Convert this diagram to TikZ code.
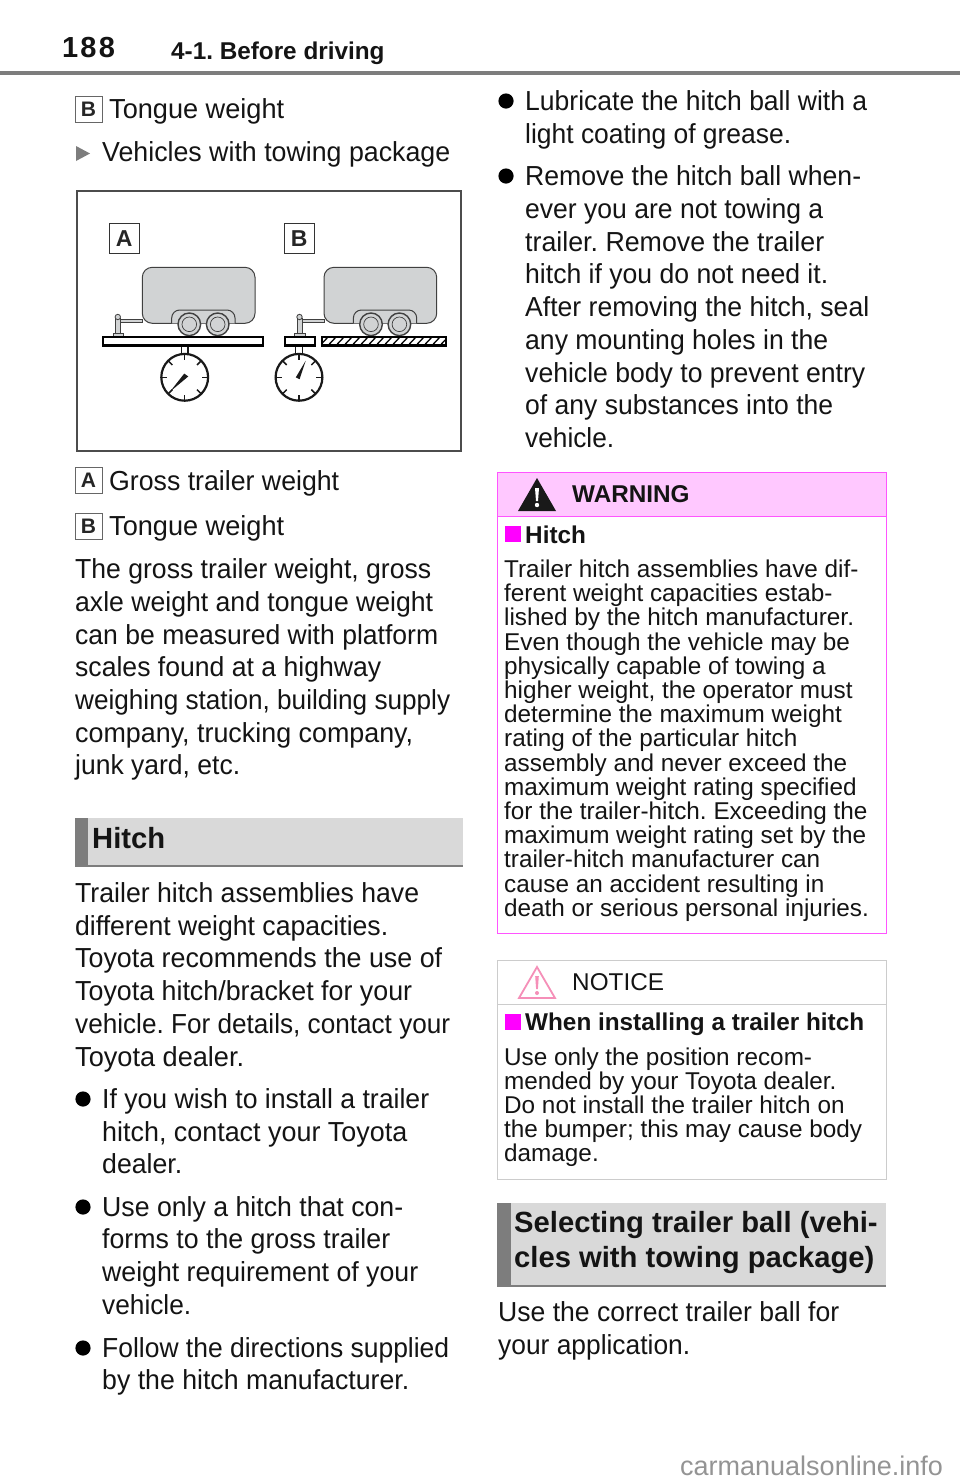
\documentclass[tikz,border=0pt]{standalone}
\usepackage{fontspec}
\usepackage{graphicx}
\setmainfont{Liberation Sans}
\frenchspacing
\definecolor{band}{HTML}{D9D9D9}
\definecolor{barc}{HTML}{7D7D7D}
\definecolor{warnbg}{HTML}{FFC8FF}
\definecolor{warnln}{HTML}{FF55FF}
\definecolor{notln}{HTML}{CCCCCC}
\definecolor{trail}{HTML}{D1D3D4}
\definecolor{pinkt}{HTML}{F58FB8}
\definecolor{puremag}{RGB}{255,0,255}
\newcommand{\fbody}{\fontsize{27.5}{32}\selectfont}
\newcommand{\fsmall}{\fontsize{24.3}{28}\selectfont}
\newcommand{\fhead}{\fontsize{29.2}{34}\selectfont\bfseries}
% \tbody{name}{x}{baseline}{right edge}{text}: the line is fitted to the printed width
\newcommand{\tbody}[5]{%
  \node[txt,font=\fbody] (#1) at (#2,#3) {\resizebox{\dimexpr #4pt-#2pt\relax}{\height}{#5}};}
\newcommand{\tsmall}[4]{\node[txt,font=\fsmall] (#1) at (#2,#3) {#4};}
\newcommand{\tbold}[4]{\node[txt,font=\fsmall\bfseries] (#1) at (#2,#3) {#4};}
\newcommand{\thead}[4]{\node[txt,font=\fhead] (#1) at (#2,#3) {#4};}
\newcommand{\dotb}[2]{\fill[black] (#1,#2) circle (7.6);}
\newcommand{\lab}[4]{\draw[draw=black!60,line width=1pt,fill=white] (#1,#2) rectangle ++(27,26);
  \node[font=\fontsize{21}{23}\selectfont\bfseries,inner sep=0pt,text=black!85] (#3) at (#1+13.5,#2+13) {#4};}
\newcommand{\biglab}[4]{\draw[draw=black!80,line width=1.2pt,fill=white] (#1,#2) rectangle ++(30,30);
  \node[font=\fontsize{23}{25}\selectfont\bfseries,inner sep=0pt,text=black!85] (#3) at (#1+15,#2+15) {#4};}
\newcommand{\trailer}[1]{
  \begin{scope}[xshift=#1pt,draw=black!75,line width=1pt]
    \draw[fill=trail,rounded corners=10pt] (0,323.3) -- (0,267.3) -- (112.7,267.3) -- (112.7,323.3) -- cycle;
    \draw[fill=trail,rounded corners=8pt] (29.4,323.3) -- (29.4,310) -- (92.7,310) -- (92.7,323.3);
    \foreach \wx in {47,75.4}{
      \draw[fill=trail,line width=1.4pt] (\wx,324.3) circle (11.3);
      \draw[line width=.7pt] (\wx,324.3) circle (7.3);
    }
    \draw[fill=trail,line width=.8pt] (-22,319.6) rectangle (0,322.6);
    \draw[fill=trail,line width=.8pt] (-27,318) rectangle (-22,333.5);
    \draw[fill=trail,line width=.8pt] (-24.5,317) circle (2.7);
    \draw[fill=trail,line width=.8pt] (-29.3,333.5) rectangle (-18.7,336.5);
  \end{scope}}
\newcommand{\gauge}[1]{
  \begin{scope}[xshift=#1pt,line width=2.2pt,draw=black!90]
    \draw[fill=white,line width=1.5pt] (-3.3,345.7) rectangle (3.3,355);
    \draw[fill=white] (0,377.3) circle (23.4);
    \foreach \ang in {0,45,...,315}{
      \draw[line width=1.5pt] (0,377.3) ++(\ang:23.4) -- ++(\ang+180:6);
    }
  \end{scope}}
\begin{document}
\begin{tikzpicture}[x=1pt,y=-1pt,
  txt/.style={anchor=base west,inner sep=0pt,text=black!92}]
\useasboundingbox (0,0) rectangle (960,1484);
\fill[white] (0,0) rectangle (960,1484);
\node[txt,font=\fontsize{29}{32}\selectfont\bfseries] (pageno) at (62,57) {1\kern2.2pt8\kern2.2pt8};
\node[txt,font=\fsmall\bfseries] (chapter) at (171,59) {4-1. Before driving};
\fill[barc] (0,71) rectangle (960,75);
\lab{75}{96}{lb1}{B}
\tbody{t1}{109}{118}{284}{Tongue weight}
\fill[barc] (76,146) -- (90,153.5) -- (76,161) -- cycle;
\tbody{t2}{102}{161}{450}{Vehicles with towing package}
\draw[draw=black!70,line width=1.3pt] (77,191) rectangle (461,451);
\biglab{109.3}{223.3}{figA}{A}
\biglab{284.3}{223.3}{figB}{B}
\trailer{142.3}
\trailer{324}
\gauge{184.7}
\gauge{299}
\draw[line width=2.2pt,fill=white] (103.3,337) rectangle (263.3,345.5);
\draw[line width=2.2pt,fill=white] (285,337) rectangle (315,345.5);
\draw[fill=white,draw=none] (321.7,337) rectangle (446,345.5);
\begin{scope}
  \clip (321.7,337) rectangle (446,345.5);
  \foreach \hx in {320,328,...,456}{\draw[line width=1.3pt] (\hx,345.5) -- (\hx+8,337);}
\end{scope}
\draw[line width=2.2pt] (321.7,337) rectangle (446,345.5);
\fill[black!90] (184.2,373.6) -- (188.3,376.4) -- (170,391.7) -- cycle;
\fill[black!90] (295.8,377.4) -- (299.6,379.2) -- (305.7,360.7) -- cycle;
\lab{75}{467}{lb2}{A}
\tbody{t3}{109}{490}{339}{Gross trailer weight}
\lab{75}{513}{lb3}{B}
\tbody{t4}{109}{535}{284}{Tongue weight}
\tbody{p1}{75}{578}{431}{The gross trailer weight, gross}
\tbody{p2}{75}{611}{433}{axle weight and tongue weight}
\tbody{p3}{75}{644}{438}{can be measured with platform}
\tbody{p4}{75}{676}{381}{scales found at a highway}
\tbody{p5}{75}{709}{450}{weighing station, building supply}
\tbody{p6}{75}{742}{413}{company, trucking company,}
\tbody{p7}{75}{774}{240}{junk yard, etc.}
\fill[band] (75,818) rectangle (463,867);
\fill[barc] (75,818) rectangle (88,867);
\fill[barc] (75,865) rectangle (463,867);
\thead{h1}{92}{848}{Hitch}
\tbody{q1}{75}{902}{419}{Trailer hitch assemblies have}
\tbody{q2}{75}{935}{388}{different weight capacities.}
\tbody{q3}{75}{967}{442}{Toyota recommends the use of}
\tbody{q4}{75}{1000}{412}{Toyota hitch/bracket for your}
\tbody{q5}{75}{1033}{450}{vehicle. For details, contact your}
\tbody{q6}{75}{1066}{244}{Toyota dealer.}
\dotb{83}{1099}
\tbody{b1}{102}{1108}{429}{If you wish to install a trailer}
\tbody{b2}{102}{1141}{407}{hitch, contact your Toyota}
\tbody{b3}{102}{1173}{182}{dealer.}
\dotb{83}{1207}
\tbody{b4}{102}{1216}{403}{Use only a hitch that con-}
\tbody{b5}{102}{1248}{390}{forms to the gross trailer}
\tbody{b6}{102}{1281}{418}{weight requirement of your}
\tbody{b7}{102}{1314}{191}{vehicle.}
\dotb{83}{1348}
\tbody{b8}{102}{1357}{449}{Follow the directions supplied}
\tbody{b9}{102}{1389}{409}{by the hitch manufacturer.}
\dotb{506}{101}
\tbody{r1}{525}{110}{867}{Lubricate the hitch ball with a}
\tbody{r2}{525}{143}{791}{light coating of grease.}
\dotb{506}{176}
\tbody{r3}{525}{185}{861}{Remove the hitch ball when-}
\tbody{r4}{525}{218}{823}{ever you are not towing a}
\tbody{r5}{525}{251}{824}{trailer. Remove the trailer}
\tbody{r6}{525}{283}{828}{hitch if you do not need it.}
\tbody{r7}{525}{316}{869}{After removing the hitch, seal}
\tbody{r8}{525}{349}{828}{any mounting holes in the}
\tbody{r9}{525}{382}{865}{vehicle body to prevent entry}
\tbody{r10}{525}{414}{833}{of any substances into the}
\tbody{r11}{525}{447}{614}{vehicle.}
\fill[warnbg] (497,472) rectangle (886,516);
\draw[warnln,line width=1pt] (497,472) rectangle (886,933);
\draw[warnln,line width=1pt] (497,516) -- (886,516);
\fill[black!90] (537,478) -- (556,511) -- (518,511) -- cycle;
\fill[white] (535,488) -- (539,488) -- (538,501) -- (536,501) -- cycle;
\fill[white] (537,505) circle (2.2);
\tbold{wt}{572}{502}{WARNING}
\fill[puremag] (505,526) rectangle (521,542);
\tbold{wh}{525}{543}{Hitch}
\tsmall{w1}{504}{577}{Trailer hitch assemblies have dif-}
\tsmall{w2}{504}{601}{ferent weight capacities estab-}
\tsmall{w3}{504}{625}{lished by the hitch manufacturer.}
\tsmall{w4}{504}{650}{Even though the vehicle may be}
\tsmall{w5}{504}{674}{physically capable of towing a}
\tsmall{w6}{504}{698}{higher weight, the operator must}
\tsmall{w7}{504}{722}{determine the maximum weight}
\tsmall{w8}{504}{746}{rating of the particular hitch}
\tsmall{w9}{504}{771}{assembly and never exceed the}
\tsmall{w10}{504}{795}{maximum weight rating specified}
\tsmall{w11}{504}{819}{for the trailer-hitch. Exceeding the}
\tsmall{w12}{504}{843}{maximum weight rating set by the}
\tsmall{w13}{504}{867}{trailer-hitch manufacturer can}
\tsmall{w14}{504}{892}{cause an accident resulting in}
\tsmall{w15}{504}{916}{death or serious personal injuries.}
\draw[notln,line width=1pt] (497,960) rectangle (886,1179);
\draw[notln,line width=1pt] (497,1004) -- (886,1004);
\draw[pinkt,line width=1.8pt] (537,967) -- (555,998) -- (519,998) -- cycle;
\fill[pinkt] (535.2,976) -- (538.8,976) -- (537.9,989) -- (536.1,989) -- cycle;
\fill[pinkt] (537,993) circle (2);
\tsmall{nt}{572}{990}{NOTICE}
\fill[puremag] (505,1014) rectangle (521,1030);
\tbold{nh}{525}{1030}{When installing a trailer hitch}
\tsmall{n1}{504}{1065}{Use only the position recom-}
\tsmall{n2}{504}{1089}{mended by your Toyota dealer.}
\tsmall{n3}{504}{1113}{Do not install the trailer hitch on}
\tsmall{n4}{504}{1137}{the bumper; this may cause body}
\tsmall{n5}{504}{1161}{damage.}
\fill[band] (497,1203) rectangle (886,1287);
\fill[barc] (497,1203) rectangle (511,1287);
\fill[barc] (497,1285) rectangle (886,1287);
\thead{s1}{514}{1232}{Selecting trailer ball (vehi-}
\thead{s2}{514}{1267}{cles with towing package)}
\tbody{u1}{498}{1321}{839}{Use the correct trailer ball for}
\tbody{u2}{498}{1354}{690}{your application.}
\node[anchor=base west,inner sep=0pt,text=black!42,font=\fontsize{27}{30}\selectfont] (wm) at (680,1475) {carmanualsonline.info};
\end{tikzpicture}
\end{document}
